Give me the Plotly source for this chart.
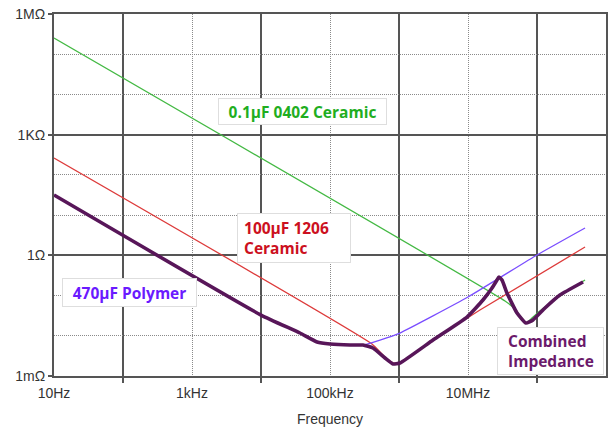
import plotly.graph_objects as go

# ---- data ----
green_f = [10, 3.44e7, 4.80e7, 5.86e7, 6.93e7, 8.18e7, 1.10e8, 2.15e8, 4.97e8]
green_z = [2.53e5, 0.0731, 0.0462, 0.0292, 0.0207, 0.0261, 0.0413, 0.0975, 0.243]

red_f = [10, 4.06e5, 6.27e5, 8.18e5, 1.03e6, 3.11e6, 1.49e7, 4.97e8]
red_z = [263, 6.24e-3, 2.96e-3, 2.10e-3, 2.16e-3, 7.83e-3, 0.0437, 1.61]

blue_f = [10, 1e4, 3.67e4, 6.49e4, 1e5, 1.95e5, 3.01e5, 5.31e5, 1.03e6, 1e7, 1e8, 4.97e8]
blue_z = [31.6, 0.0328, 0.0117, 0.0070, 0.00624, 0.00589, 0.00589, 0.00783, 0.0117, 0.092, 1.02, 4.78]

comb_f = [10, 1e4, 3.67e4, 6.49e4, 1e5, 1.95e5, 3.006e5, 4.198e5, 6.266e5, 8.185e5, 1.033e6,
          3.11e6, 9.68e6, 1.648e7, 2.228e7, 2.63e7, 2.81e7, 3.11e7, 3.67e7, 5.13e7, 6.93e7,
          8.75e7, 1.306e8, 2.15e8, 4.65e8]
comb_z = [31.6, 0.0328, 0.01172, 0.0070, 0.00624, 0.00589, 0.00589, 0.00497, 0.0028, 0.00199, 0.0021,
          0.00783, 0.0292, 0.0774, 0.154, 0.243, 0.289, 0.243, 0.1156, 0.0368, 0.0207,
          0.0247, 0.049, 0.103, 0.217]

x_major_vals = [10, 1e3, 1e5, 1e7]
x_major_text = ["10Hz", "1kHz", "100kHz", "10MHz"]
x_minor_vals = [100, 1e4, 1e6, 1e8]
y_major_vals = [1e-3, 1, 1e3, 1e6]
y_major_text = ["1mΩ", "1Ω", "1KΩ", "1MΩ"]
y_minor_vals = [1e-2, 1e-1, 10, 100, 1e4, 1e5]

fig = go.Figure()
fig.add_trace(go.Scatter(x=green_f, y=green_z, mode="lines", hoverinfo="skip",
                         line=dict(color="#44b944", width=1.3, shape="spline", smoothing=0.4)))
fig.add_trace(go.Scatter(x=red_f, y=red_z, mode="lines", hoverinfo="skip",
                         line=dict(color="#dd3b3b", width=1.3, shape="spline", smoothing=0.4)))
fig.add_trace(go.Scatter(x=blue_f, y=blue_z, mode="lines", hoverinfo="skip",
                         line=dict(color="#7a4dff", width=1.3, shape="spline", smoothing=0.4)))
fig.add_trace(go.Scatter(x=comb_f, y=comb_z, mode="lines", hoverinfo="skip",
                         line=dict(color="#581659", width=3.6, shape="spline", smoothing=0.4)))

# body margin is removed below, so figure pixels == screen pixels;
# plot area on screen spans x 54..606, y 14..376
W, H = 608, 427
L, T = 54, 14
R = W - 606
B = H - 376
pw, ph = W - L - R, H - T - B


def px(xs):
    return (xs - L) / pw


def py(ys):
    return (H - B - ys) / ph


ann_font = "Open Sans, Noto Sans, sans-serif"
annots = [
    dict(text="<b>0.1µF 0402 Ceramic</b>", x=px(302.5), y=py(111.5), color="#1fae1f",
         w=163, h=21, align="center"),
    dict(text="<b>&nbsp;100µF 1206<br>&nbsp;Ceramic</b>", x=px(294), y=py(238), color="#cc1020",
         w=108, h=44, align="left"),
    dict(text="<b>470µF Polymer</b>", x=px(129.5), y=py(292.5), color="#6a1aff",
         w=129, h=23, align="center"),
    dict(text="<b>&nbsp;&nbsp;Combined<br>&nbsp;&nbsp;Impedance</b>", x=px(550.5), y=py(350.5),
         color="#6b1a6b", w=101, h=42, align="left"),
]
for a in annots:
    fig.add_annotation(text=a["text"], x=a["x"], y=a["y"], xref="paper", yref="paper",
                       xanchor="center", yanchor="middle", showarrow=False,
                       width=a["w"], height=a["h"], align=a["align"],
                       font=dict(family=ann_font, size=15.5, color=a["color"]),
                       bgcolor="white", bordercolor="#dedede", borderwidth=1, borderpad=2)

tick_font = dict(family="Liberation Sans, Arial, sans-serif", size=14, color="#333333")

fig.update_layout(
    width=W, height=H,
    margin=dict(l=L, r=R, t=T, b=B),
    paper_bgcolor="white", plot_bgcolor="white",
    showlegend=False,
    hovermode=False,
    xaxis=dict(
        type="log", range=[1, 9], automargin=False,
        tickvals=x_major_vals, ticktext=x_major_text, ticks="",
        ticklabelstandoff=3, ticklabeloverflow="allow",
        showgrid=True, gridcolor="#8a8a8a", gridwidth=1, griddash="1px,1px",
        tickfont=tick_font,
        showline=True, linecolor="#555555", linewidth=2, mirror=True,
        zeroline=False,
        minor=dict(tickvals=x_minor_vals, ticks="outside", ticklen=5, tickwidth=2,
                   tickcolor="#555555", showgrid=True, gridcolor="#555555", gridwidth=2,
                   griddash="solid"),
        title=dict(text="Frequency", font=tick_font, standoff=14),
    ),
    yaxis=dict(
        type="log", range=[-3, 6], automargin=False,
        tickvals=y_major_vals, ticktext=y_major_text, ticks="outside", ticklen=4,
        tickwidth=2, tickcolor="#555555", ticklabeloverflow="allow",
        showgrid=True, gridcolor="#555555", gridwidth=2,
        tickfont=tick_font,
        showline=True, linecolor="#555555", linewidth=2, mirror=True,
        zeroline=False,
        minor=dict(tickvals=y_minor_vals, ticks="", showgrid=True, gridcolor="#8a8a8a",
                   gridwidth=1, griddash="1px,1px"),
    ),
)

fig.write_html(
    "out.html",
    config={"displayModeBar": False},
    post_script="document.body.style.margin='0';document.body.style.overflow='hidden';",
)
